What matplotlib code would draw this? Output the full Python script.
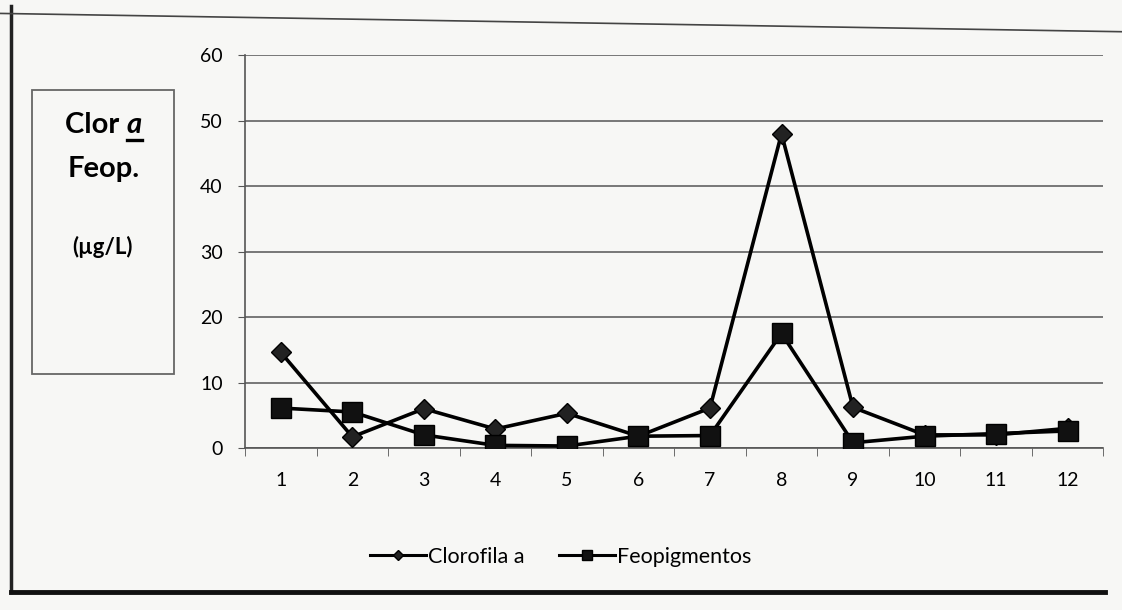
import matplotlib
matplotlib.use('Agg')
import matplotlib.pyplot as plt
from matplotlib.patches import Rectangle
from matplotlib.lines import Line2D

plt.rcParams['font.family'] = ['Lato', 'DejaVu Sans']

# 정점 번호와 농도 값 (µg/L)
estacoes = [1, 2, 3, 4, 5, 6, 7, 8, 9, 10, 11, 12]
clorofila = [14.6, 1.7, 6.0, 2.9, 5.3, 1.8, 6.1, 48.0, 6.2, 2.0, 2.0, 3.0]
feopigmentos = [6.1, 5.5, 2.0, 0.4, 0.3, 1.8, 1.9, 17.5, 0.8, 1.8, 2.2, 2.6]
y_ticks = [0, 10, 20, 30, 40, 50, 60]
nomes = ['Clorofila a', 'Feopigmentos']

fig = plt.figure(figsize=(11.22, 6.10), dpi=100)
fig.patch.set_facecolor('#f7f7f5')

# 바깥 테두리 (종이 프레임)
fig.add_artist(Line2D([0.010, 0.010], [0.03, 0.99], color='#222222', lw=2.5,
                      transform=fig.transFigure))
fig.add_artist(Line2D([0.010, 0.985], [0.030, 0.030], color='#111111', lw=3.5,
                      transform=fig.transFigure))
fig.add_artist(Line2D([0.0, 1.0], [0.978, 0.948], color='#444444', lw=1.2,
                      transform=fig.transFigure))

ax = fig.add_axes([0.2184, 0.2656, 0.765, 0.644])
ax.set_facecolor('none')

ax.plot(estacoes, clorofila, color='black', lw=2.6, marker='D', markersize=10,
        markerfacecolor='#222222', markeredgecolor='black', label=nomes[0], zorder=3)
ax.plot(estacoes, feopigmentos, color='black', lw=2.6, marker='s', markersize=14,
        markerfacecolor='#111111', markeredgecolor='black', label=nomes[1], zorder=4)

ax.set_xlim(0.5, 12.5)
ax.set_ylim(0, 60)
ax.set_yticks(y_ticks)
ax.set_xticks(estacoes)
ax.set_xticks([e + 0.5 for e in [0] + estacoes], minor=True)
ax.yaxis.grid(True, color='#555555', lw=1.1)
ax.set_axisbelow(True)

for s in ['top', 'right']:
    ax.spines[s].set_visible(False)
ax.spines['left'].set_color('#555555')
ax.spines['bottom'].set_color('#555555')
ax.spines['left'].set_linewidth(1.2)
ax.spines['bottom'].set_linewidth(1.2)

ax.tick_params(axis='y', length=5, color='#555555', labelsize=14, pad=11)
ax.tick_params(axis='x', which='major', length=0, labelsize=14, pad=17)
ax.tick_params(axis='x', which='minor', length=6, color='#555555')

# 범례 (아래 가운데)
leg = fig.legend(loc='center', bbox_to_anchor=(0.50, 0.087), ncol=2, frameon=False,
                 fontsize=15.5, handlelength=2.6, columnspacing=1.6, handletextpad=0.1,
                 markerscale=0.55)
for h in leg.legend_handles:
    h.set_linewidth(2.2)

# 왼쪽 단위 상자
fig.add_artist(Rectangle((0.0285, 0.387), 0.127, 0.466, transform=fig.transFigure,
                         fill=False, edgecolor='#666666', lw=1.3))
t1 = fig.text(0.113, 0.782, 'Clor ', ha='right', va='baseline', fontsize=21,
              fontweight='bold')
t2 = fig.text(0.113, 0.782, 'a', ha='left', va='baseline', fontsize=21,
              fontweight='bold', style='italic')
fig.text(0.092, 0.710, 'Feop.', ha='center', va='baseline', fontsize=21,
         fontweight='bold')
fig.text(0.091, 0.583, '(µg/L)', ha='center', va='baseline', fontsize=16,
         fontweight='bold')

# 이탤릭 a 밑줄
fig.canvas.draw()
bb = t2.get_window_extent().transformed(fig.transFigure.inverted())
fig.add_artist(Line2D([bb.x0, bb.x1], [bb.y0 - 0.004, bb.y0 - 0.004], color='black',
                      lw=2.4, transform=fig.transFigure))

fig.savefig('out.png', dpi=100, facecolor=fig.get_facecolor())
